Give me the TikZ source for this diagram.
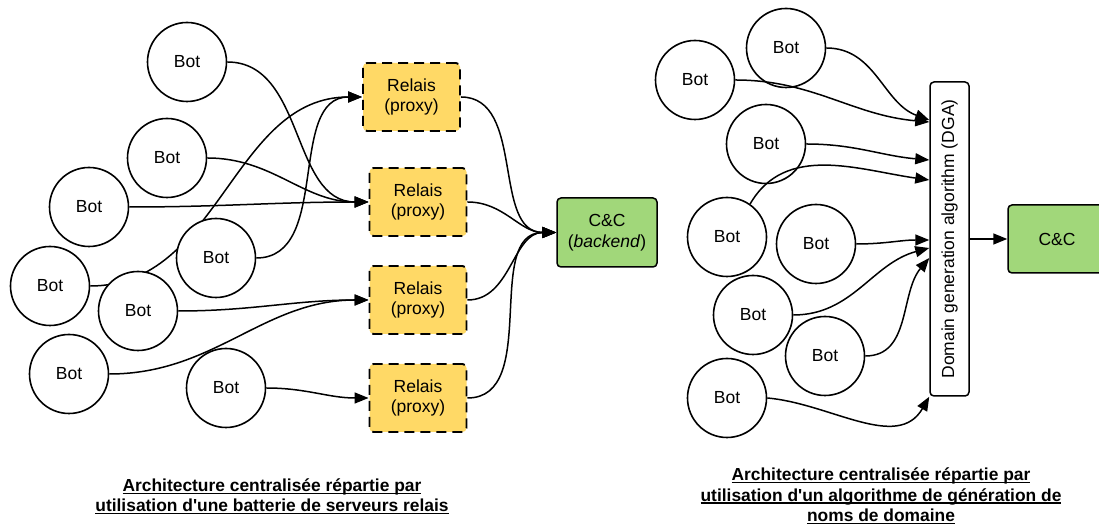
\documentclass[tikz,border=0pt]{standalone}
\usepackage{fontspec}
\setmainfont{Liberation Sans}
\newfontfamily\capfont{Liberation Sans}
\usetikzlibrary{arrows.meta,backgrounds}
\definecolor{relaisyellow}{HTML}{FFD966}
\definecolor{ccgreen}{HTML}{A1D77A}
\newcommand\capul[1]{\setbox0\hbox{#1}\rlap{\rule[-2.4pt]{\wd0}{1.3pt}}\box0}
\begin{document}
\begin{tikzpicture}[x=1pt,y=1pt,
  lbl/.style={font=\fontsize{17.5}{20.5}\selectfont},
  bot/.style={lbl, circle, draw, line width=1.6pt, fill=white, minimum size=79pt, inner sep=0pt},
  relais/.style={lbl, rectangle, rounded corners=4pt, draw, dash pattern=on 10pt off 6pt, line width=1.9pt, fill=relaisyellow, minimum width=97pt, minimum height=68pt, align=center, inner sep=0pt},
  cc/.style={lbl, rectangle, rounded corners=4pt, draw, line width=1.5pt, fill=ccgreen, minimum width=100pt, minimum height=69pt, align=center, inner sep=0pt},
  dga/.style={lbl, rectangle, rounded corners=4pt, draw, line width=1.5pt, fill=white, minimum width=39pt, minimum height=314pt, inner sep=0pt},
  conn/.style={line width=1.5pt, -{Triangle[length=14pt,width=11pt]}},
  caption/.style={font=\capfont\bfseries\fontsize{17.4}{20.5}\selectfont, align=center}
]
\useasboundingbox (0,0) rectangle (1099,526);
% left diagram
\node[bot] (a) at (187,464) {Bot};
\node[bot] (b) at (167,368) {Bot};
\node[bot] (c) at (89,319) {Bot};
\node[bot] (d) at (216,268) {Bot};
\node[bot] (e) at (50,240) {Bot};
\node[bot] (f) at (138,215) {Bot};
\node[bot] (g) at (69,152) {Bot};
\node[bot] (h) at (226,138) {Bot};
\node[relais] (r1) at (411.5,429) {Relais\\(proxy)};
\node[relais] (r2) at (418,324) {Relais\\(proxy)};
\node[relais] (r3) at (418,226) {Relais\\(proxy)};
\node[relais] (r4) at (418,128) {Relais\\(proxy)};
\node[cc] (cc1) at (607,293.5) {C\&C\\(\textit{backend})};
\begin{pgfonlayer}{background}
\draw[conn] (a.east) to[out=0,in=180] (r2.west);
\draw[conn] (b.east) to[out=0,in=180] (r2.west);
\draw[conn] (c.east) to[out=0,in=180] (r2.west);
\draw[conn] (d.east) to[out=0,in=180] (r1.west);
\draw[conn] (e.east) to[out=0,in=180] (r1.west);
\draw[conn] (f.east) to[out=0,in=180] (r3.west);
\draw[conn] (g.east) to[out=0,in=180] (r3.west);
\draw[conn] (h.east) to[out=0,in=180] (r4.west);
\draw[conn] (r1.east) to[out=0,in=180] (cc1.west);
\draw[conn] (r2.east) to[out=0,in=180] (cc1.west);
\draw[conn] (r3.east) to[out=0,in=180] (cc1.west);
\draw[conn] (r4.east) to[out=0,in=180] (cc1.west);
\end{pgfonlayer}
% right diagram
\node[bot] (s1) at (786,478) {Bot};
\node[bot] (s2) at (695,446) {Bot};
\node[bot] (s3) at (766,382) {Bot};
\node[bot] (s4) at (727,289) {Bot};
\node[bot] (s5) at (816,282) {Bot};
\node[bot] (s6) at (753,211) {Bot};
\node[bot] (s7) at (825,170) {Bot};
\node[bot] (s8) at (727,128) {Bot};
\node[dga] (dga) at (949.5,287) {\rotatebox{90}{Domain generation algorithm (DGA)}};
\node[cc, minimum width=98pt, minimum height=68pt] (cc2) at (1057,287) {C\&C};
\draw[conn] (s1.east) to[out=0,in=160] ([yshift=119pt]dga.west);
\draw[conn] (s2.east) to[out=0,in=175] ([yshift=117pt]dga.west);
\draw[conn] (s3.east) to[out=0,in=175] ([yshift=79pt]dga.west);
\draw[conn] (s4.55) to[out=60,in=172] ([yshift=59pt]dga.west);
\draw[conn] (s5.east) to[out=0,in=180] ([yshift=-1pt]dga.west);
\draw[conn] (s6.east) to[out=0,in=195] ([yshift=-9pt]dga.west);
\draw[conn] (s7.east) to[out=0,in=230] ([yshift=-19pt]dga.west);
\draw[conn] (s8.east) to[out=-5,in=240] (dga.south west);
\draw[conn] (dga.east) -- (cc2.west);
% captions
\node[caption] (cap1) at (272,29.5) {\capul{Architecture centralisée répartie par}\\\capul{utilisation d'une batterie de serveurs relais}};
\node[caption] (cap2) at (881,30) {\capul{Architecture centralisée répartie par}\\\capul{utilisation d'un algorithme de génération de}\\\capul{noms de domaine}};
\end{tikzpicture}
\end{document}
